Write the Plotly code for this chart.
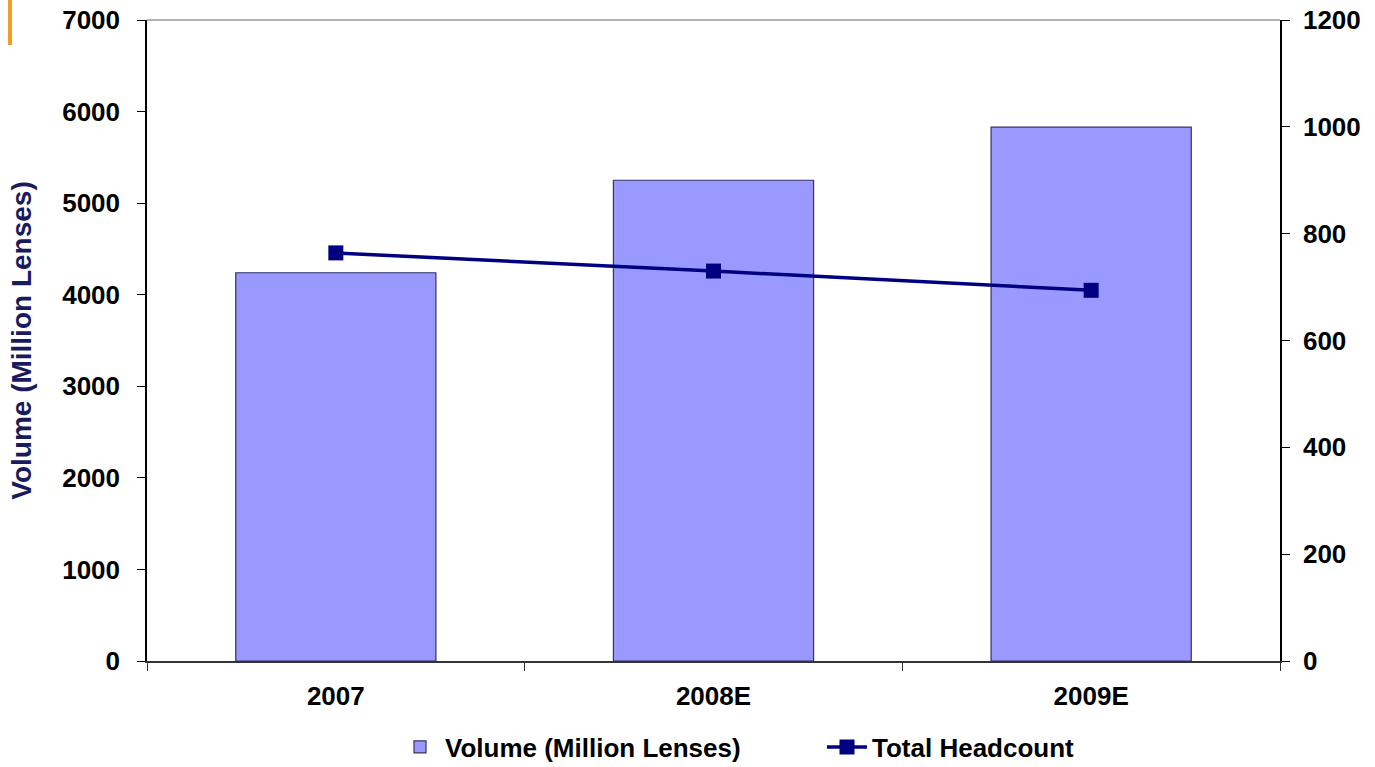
import plotly.graph_objects as go

categories = ["2007", "2008E", "2009E"]
volume = [4240, 5250, 5830]
headcount = [764, 730, 694]
left_ticks = [0, 1000, 2000, 3000, 4000, 5000, 6000, 7000]
right_ticks = [0, 200, 400, 600, 800, 1000, 1200]

FONT = "Liberation Sans, Arial, sans-serif"
FS = 26

fig = go.Figure()
fig.add_trace(go.Bar(
    x=categories, y=volume, name="Volume (Million Lenses)",
    marker=dict(color="#9999FF", line=dict(color="#333366", width=1.2)),
    yaxis="y",
))
fig.add_trace(go.Scatter(
    x=categories, y=headcount, name="Total Headcount",
    mode="lines+markers",
    line=dict(color="#000080", width=3.5),
    marker=dict(symbol="square", size=15, color="#000080"),
    yaxis="y2",
))

fig.update_layout(
    width=1375, height=767,
    margin=dict(l=147, r=95, t=20, b=106, autoexpand=False),
    paper_bgcolor="white", plot_bgcolor="white",
    bargap=0.47,
    font=dict(family=FONT, size=FS, color="black", weight="bold"),
    showlegend=True,
    legend=dict(orientation="h", xref="container", yref="container",
                x=395/1375, xanchor="left", y=1 - 747/767, yanchor="middle",
                font=dict(family=FONT, size=FS, color="black", weight="bold"),
                itemwidth=40, entrywidth=372, traceorder="normal"),
    xaxis=dict(
        type="category", tickson="boundaries", ticks="outside", ticklen=8,
        tickcolor="#333333", showline=True, linecolor="#333333", linewidth=1.5,
        showgrid=False, tickfont=dict(family=FONT, size=FS, weight="bold"),
        ticklabelstandoff=11,
    ),
    yaxis=dict(
        range=[0, 7000], tickvals=left_ticks, ticks="outside", ticklen=8,
        tickcolor="black", showline=True, linecolor="black", linewidth=1.5,
        showgrid=False, zeroline=False,
        tickfont=dict(family=FONT, size=FS, weight="bold"),
        ticklabelstandoff=12,
        title=dict(text="Volume (Million Lenses)", standoff=22,
                   font=dict(family=FONT, size=28, color="#1a1a5e", weight="bold")),
    ),
    yaxis2=dict(
        range=[0, 1200], tickvals=right_ticks, overlaying="y", side="right",
        ticks="outside", ticklen=8, tickcolor="black", showline=True,
        linecolor="black", linewidth=1.5, showgrid=False, zeroline=False,
        tickfont=dict(family=FONT, size=FS, weight="bold"),
        ticklabelstandoff=8,
    ),
    shapes=[
        dict(type="line", xref="paper", yref="paper", x0=0, x1=1, y0=1, y1=1,
             line=dict(color="#999999", width=1.5)),
        dict(type="line", xref="paper", yref="paper", x0=-0.1209, x1=-0.1209,
             y0=1 + 20/641, y1=1 - 25/641, line=dict(color="#F0A020", width=4)),
    ],
)

fig.write_html("out.html")
